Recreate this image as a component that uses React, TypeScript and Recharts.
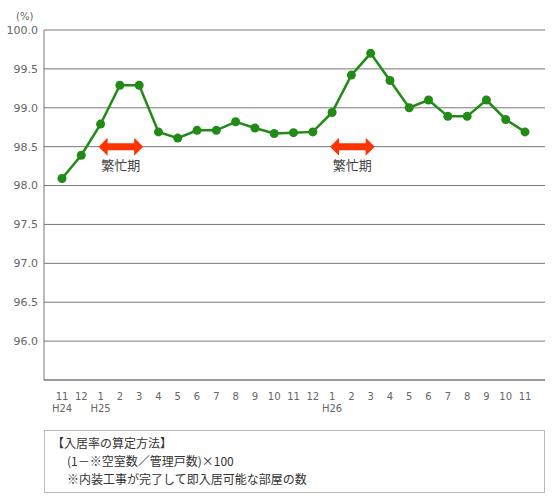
import { LineChart, Line, XAxis, YAxis, CartesianGrid, ReferenceLine } from 'recharts';

// 入居率 (%), H24/11 〜 H26/11
const months = [11, 12, 1, 2, 3, 4, 5, 6, 7, 8, 9, 10, 11, 12, 1, 2, 3, 4, 5, 6, 7, 8, 9, 10, 11];
const eras = ['H24', '', 'H25', '', '', '', '', '', '', '', '', '', '', '', 'H26', '', '', '', '', '', '', '', '', '', ''];
const rates = [
  98.09, 98.39, 98.79, 99.29, 99.29, 98.69, 98.61, 98.71, 98.71, 98.82, 98.74, 98.67, 98.68,
  98.69, 98.94, 99.42, 99.7, 99.35, 99.0, 99.1, 98.89, 98.89, 99.1, 98.85, 98.69,
];
const yTicks = [96, 96.5, 97, 97.5, 98, 98.5, 99, 99.5, 100];
// 繁忙期: 1月〜3月
const busyPeriods = [
  { from: 2, to: 4, label: '繁忙期' },
  { from: 14, to: 16, label: '繁忙期' },
];

const data = months.map((m, i) => ({ key: `k${i}`, month: m, era: eras[i], rate: rates[i] }));

const GRID = '#777';
const TEXT = '#666';

function MonthTick({ x, y, payload }: any) {
  const d = data.find((r) => r.key === payload.value);
  if (!d) return null;
  return (
    <g>
      <text x={x} y={y + 12} textAnchor="middle" fontSize={10} fill={TEXT}>
        {d.month}
      </text>
      {d.era && (
        <text x={x} y={y + 24} textAnchor="middle" fontSize={10} fill={TEXT}>
          {d.era}
        </text>
      )}
    </g>
  );
}

function BusyArrow({ x1, y1, x2, label }: any) {
  const l = x1 - 2;
  const r = x2 + 4;
  const y = y1;
  const head = 9;
  const pts = [
    [l, y],
    [l + head, y - 9],
    [l + head, y - 3.5],
    [r - head, y - 3.5],
    [r - head, y - 9],
    [r, y],
    [r - head, y + 9],
    [r - head, y + 3.5],
    [l + head, y + 3.5],
    [l + head, y + 9],
  ]
    .map((p) => p.join(','))
    .join(' ');
  return (
    <g>
      <polygon points={pts} fill="#ff3300" />
      <text
        x={(l + r) / 2}
        y={y + 23}
        textAnchor="middle"
        fontSize={13}
        fill="#444"
        fontFamily="'Noto Sans CJK JP', sans-serif"
      >
        {label}
      </text>
    </g>
  );
}

export default function App() {
  return (
    <div
      style={{
        position: 'absolute',
        left: 0,
        top: 0,
        width: 555,
        height: 500,
        background: '#fff',
        fontFamily: "'DejaVu Sans', sans-serif",
      }}
    >
      <div style={{ position: 'absolute', left: 16, top: 11, fontSize: 10, color: TEXT }}>(%)</div>
      <LineChart
        width={555}
        height={420}
        data={data}
        margin={{ top: 30, right: 10, bottom: 10, left: 0 }}
      >
        <CartesianGrid vertical={false} stroke={GRID} />
        <XAxis
          dataKey="key"
          height={30}
          interval={0}
          padding={{ left: 18, right: 20 }}
          tickLine={false}
          axisLine={{ stroke: GRID }}
          tick={<MonthTick />}
        />
        <YAxis
          width={44}
          domain={[95.5, 100]}
          ticks={yTicks}
          interval={0}
          tickLine={false}
          tickSize={0}
          tickMargin={6}
          axisLine={{ stroke: GRID }}
          tick={{ fill: TEXT, fontSize: 11 }}
          tickFormatter={(v: number) => v.toFixed(1)}
        />
        <YAxis
          yAxisId="frame"
          orientation="right"
          width={0}
          domain={[95.5, 100]}
          tick={false}
          tickLine={false}
          axisLine={{ stroke: GRID }}
        />
        {busyPeriods.map((b, i) => (
          <ReferenceLine
            key={i}
            segment={[
              { x: data[b.from].key, y: 98.5 },
              { x: data[b.to].key, y: 98.5 },
            ]}
            shape={(p: any) => <BusyArrow {...p} label={b.label} />}
          />
        ))}
        <Line
          type="linear"
          dataKey="rate"
          stroke="#228B17"
          strokeWidth={2.5}
          dot={{ r: 4.5, fill: '#228B17', stroke: '#228B17', strokeWidth: 0 }}
          activeDot={false}
          isAnimationActive={false}
        />
      </LineChart>
      <div
        style={{
          position: 'absolute',
          left: 44,
          top: 430,
          width: 499,
          height: 61,
          border: '1px solid #bbb',
          fontSize: 12,
          lineHeight: '18px',
          color: '#333',
          fontFamily: "'Noto Sans CJK JP', sans-serif",
          boxSizing: 'content-box',
        }}
      >
        <div style={{ paddingLeft: 7, paddingTop: 3 }}>【入居率の算定方法】</div>
        <div style={{ paddingLeft: 22 }}>(1－※空室数／管理戸数)×100</div>
        <div style={{ paddingLeft: 22 }}>※内装工事が完了して即入居可能な部屋の数</div>
      </div>
    </div>
  );
}
